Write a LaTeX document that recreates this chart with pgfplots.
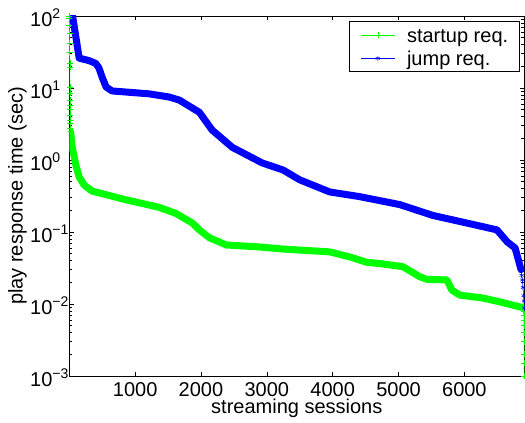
\documentclass[border=0pt]{standalone}
\usepackage{fontspec}
\setmainfont{Liberation Sans}
\usepackage{pgfplots}
\pgfplotsset{compat=1.18}
\usetikzlibrary{calc}
\newcommand\bigf{\fontsize{20bp}{24bp}\selectfont}
\newcommand\ylab[1]{\makebox[37bp][l]{10\raisebox{8bp}{\fontsize{14bp}{14bp}\selectfont #1}}}
\definecolor{mgreen}{rgb}{0,1,0}
\definecolor{mblue}{rgb}{0,0,1}
\begin{document}
\begin{tikzpicture}
\begin{axis}[
  scale only axis, width=455bp, height=360bp,
  xmin=0, xmax=6910, ymin=1e-3, ymax=1e2, ymode=log,
  xtick={1000,2000,3000,4000,5000,6000},
  xticklabels={1000,2000,3000,4000,5000,6000},
  ytick={1e-3,1e-2,1e-1,1,10,100},
  yticklabels={\ylab{−3},\ylab{−2},\ylab{−1},\ylab{0},\ylab{1},\ylab{2}},
  tick label style={font=\bigf},
  xticklabel style={anchor=base, inner sep=0pt, yshift=-20bp},
  yticklabel style={anchor=west, inner sep=0pt, xshift=-39.3bp, yshift=-2bp},
  axis line style={line width=0.6bp},
  every tick/.style={black, line width=0.6bp},
  xlabel={streaming sessions},
  xlabel style={font=\bigf, at={(axis description cs:0.5,-0.1055)}, anchor=base, inner sep=0pt},
  ylabel={play response time (sec)},
  ylabel style={font=\bigf, at={(axis description cs:-0.093,0.5)}, anchor=south, inner sep=0pt},
  legend style={at={(1,1)}, anchor=north east, xshift=-4.3bp, yshift=-5.5bp, font=\bigf,
    draw=black, line width=0.6bp, inner xsep=11.5bp, inner ysep=3.5bp, row sep=3bp,
    nodes={inner sep=0pt, text height=17bp, text depth=3bp},
    cells={anchor=west},
    /tikz/every odd column/.append style={column sep=12bp}},
  legend image code/.code={\draw[mark repeat=2, mark phase=2, #1] plot coordinates {(0bp,0bp) (17bp,0bp) (34bp,0bp)};},
]
\addplot[mgreen, line width=0.5bp, mark=+, mark size=3bp] coordinates {
(1,100) (2,94) (3,75) (4,58) (5,42) (6,31) (7,22) (8,19.6) (9,10.3) (10,8.5) (11,6.8) (12,5.8) (13,5) (14,4.2) (15,3.6) (16,3.2) (18,2.8) (20,2.5)
};
\addlegendentry{startup req.}
\addplot[mgreen, line width=7bp, line join=round, line cap=round, forget plot] coordinates {
(20,2.5) (40,1.6) (100,0.85) (150,0.58) (225,0.45) (345,0.37) (450,0.35) (860,0.28) (1365,0.22) (1625,0.18) (1870,0.133) (1975,0.107) (2130,0.083) (2385,0.066) (2890,0.062) (3240,0.058) (3955,0.053) (4260,0.045) (4515,0.038) (4760,0.036) (5065,0.033) (5320,0.024) (5430,0.022) (5735,0.0216) (5810,0.0156) (5930,0.0133) (6280,0.0121) (6540,0.0107) (6845,0.0091) (6890,0.009)
};
\addplot[mgreen, line width=0.5bp, mark=+, mark size=3bp, forget plot] coordinates {
(6890,0.009) (6900,0.008) (6902,0.007) (6903,0.006) (6904,0.005) (6905,0.004) (6906,0.003) (6907,0.002) (6908,0.0015) (6909,0.001)
};
\addplot[mblue, line width=7bp, line join=round, line cap=round, forget plot] coordinates {
(50,100) (150,26) (300,24) (400,22) (450,19) (500,14) (560,10.3) (650,9.1) (1210,8.3) (1515,7.5) (1670,6.8) (1975,4.6) (2170,2.6) (2475,1.5) (2930,0.91) (3240,0.73) (3300,0.68) (3500,0.53) (3955,0.36) (4410,0.31) (5020,0.24) (5520,0.17) (6040,0.133) (6495,0.107) (6650,0.073) (6770,0.06) (6820,0.041) (6860,0.03)
};
\addplot[mblue, line width=0.5bp, mark=asterisk, mark size=2.5bp] coordinates {
(6860,0.03) (6870,0.025) (6880,0.0216) (6890,0.017) (6900,0.013) (6905,0.011) (6910,0.0088)
};
\addlegendentry{jump req.}
\end{axis}
\pgfresetboundingbox
\path ($(current axis.south west)+(-69.3bp,-47bp)$) rectangle ($(current axis.north east)+(0.7bp,16bp)$);
\end{tikzpicture}
\end{document}
